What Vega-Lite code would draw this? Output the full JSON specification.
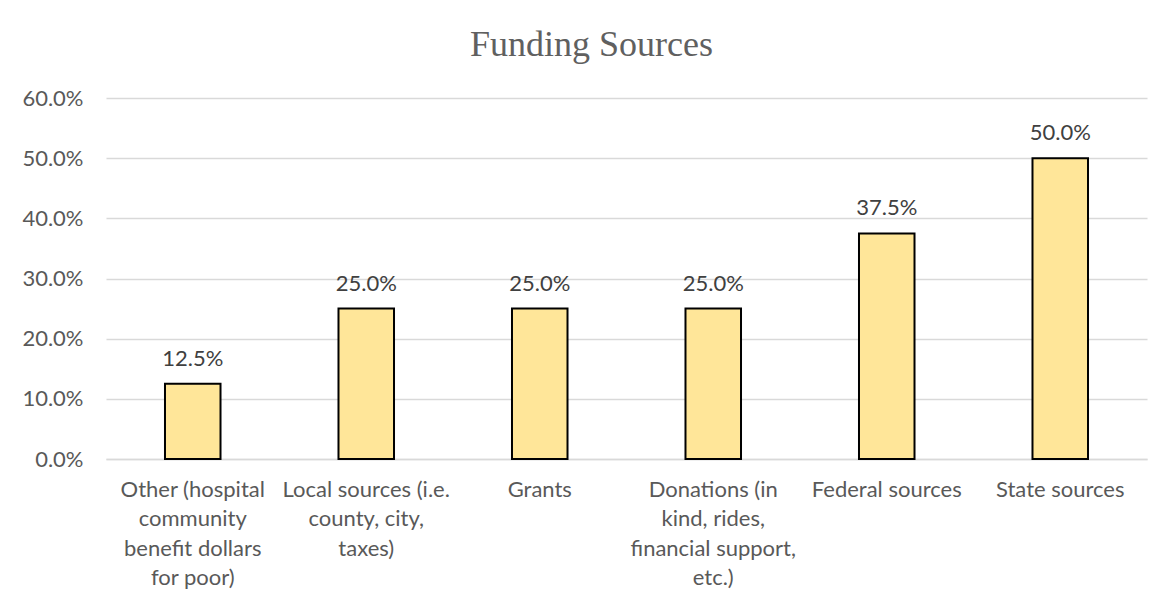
{
  "$schema": "https://vega.github.io/schema/vega-lite/v6.json",
  "width": 1041,
  "height": 361,
  "autosize": "none",
  "padding": {"left": 106, "top": 98, "right": 25, "bottom": 148},
  "background": "white",
  "title": {
    "text": "Funding Sources",
    "font": "Liberation Serif",
    "fontSize": 36,
    "fontWeight": "normal",
    "color": "#606060",
    "anchor": "middle",
    "frame": "group",
    "dx": -35,
    "offset": 23
  },
  "data": {
    "values": [
      {"source": "Other (hospital|community|benefit dollars|for poor)", "share": 0.125},
      {"source": "Local sources (i.e.|county, city,|taxes)", "share": 0.25},
      {"source": "Grants", "share": 0.25},
      {"source": "Donations (in|kind, rides,|financial support,|etc.)", "share": 0.25},
      {"source": "Federal sources", "share": 0.375},
      {"source": "State sources", "share": 0.5}
    ]
  },
  "encoding": {
    "x": {
      "field": "source",
      "type": "nominal",
      "sort": null,
      "scale": {"paddingInner": 0.68, "paddingOuter": 0.34},
      "axis": {
        "title": null,
        "labelAngle": 0,
        "labelExpr": "split(datum.value, '|')",
        "labelFont": "Lato",
        "labelFontSize": 22,
        "labelColor": "#595959",
        "labelLineHeight": 29.5,
        "labelPadding": 20,
        "labelBaseline": "top",
        "ticks": false,
        "domain": true,
        "domainColor": "#d9d9d9",
        "domainWidth": 1.5,
        "grid": false
      }
    },
    "y": {
      "field": "share",
      "type": "quantitative",
      "scale": {"domain": [0, 0.6]},
      "axis": {
        "title": null,
        "format": ".1%",
        "values": [0, 0.1, 0.2, 0.3, 0.4, 0.5, 0.6],
        "labelFont": "Lato",
        "labelFontSize": 22,
        "labelColor": "#595959",
        "labelPadding": 23,
        "ticks": false,
        "domain": false,
        "gridColor": "#d9d9d9",
        "gridWidth": 1.5
      }
    }
  },
  "layer": [
    {
      "mark": {"type": "bar", "color": "#FFE699", "stroke": "#000000", "strokeWidth": 2}
    },
    {
      "mark": {"type": "text", "font": "Lato", "fontSize": 22, "color": "#404040", "baseline": "alphabetic", "dy": -18},
      "encoding": {"text": {"field": "share", "type": "quantitative", "format": ".1%"}}
    }
  ],
  "config": {"view": {"stroke": null}}
}
